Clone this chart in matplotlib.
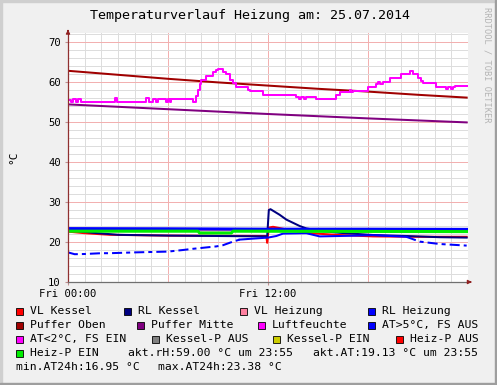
import matplotlib
matplotlib.use('Agg')
import matplotlib.pyplot as plt
from matplotlib.patches import Rectangle

# Zeitachse in Stunden ab Fri 00:00
vl_kessel_t = [0, 1, 2.5, 6, 11.9, 11.95, 12.05, 12.3, 13.3, 14.5, 16.3, 18.3, 21, 23.92]
vl_kessel = [22.6, 22.2, 21.8, 21.6, 21.5, 19.8, 23.6, 23.8, 23.0, 22.2, 21.75, 21.4, 21.3, 21.3]

rl_kessel_t = [0, 1.5, 3, 6, 9, 11.95, 12.05, 12.15, 12.7, 13.1, 13.5, 13.9, 14.3, 15.1,
               16.3, 18.3, 20.3, 22.3, 23.92]
rl_kessel = [23.0, 22.3, 21.8, 21.6, 21.5, 21.4, 28.0, 28.2, 26.8, 25.6, 24.8, 24.0, 23.4, 22.8,
             22.3, 21.75, 21.5, 21.2, 21.1]

vl_heizung_t = [0, 12, 23.92]
vl_heizung = [22.9, 22.9, 22.8]

rl_heizung_t = [0, 6, 12, 18, 23.92]
rl_heizung = [23.35, 23.3, 23.2, 23.2, 23.15]

puffer_oben_t = [0, 3, 6, 9, 12, 15, 18, 21, 23.92]
puffer_oben = [62.8, 61.8, 60.8, 59.9, 59.1, 58.3, 57.6, 56.8, 56.1]

puffer_mitte_t = [0, 6, 12, 18, 23.92]
puffer_mitte = [54.4, 53.2, 52.0, 50.9, 49.9]

luft_t = [0, 0.2, 0.3, 0.45, 0.6, 0.75, 2.8, 2.95, 4.7, 4.85, 5.1, 5.3, 5.4, 5.9, 6.0, 6.1,
          6.2, 7.5, 7.7, 7.8, 7.9, 8.0, 8.3, 8.7, 8.85, 9.0, 9.3, 9.5, 9.7, 9.9, 10.1, 10.8,
          10.9, 11.7, 13.7, 13.85, 14.0, 14.15, 14.3, 14.9, 16.1, 16.3, 16.9, 17.0, 17.1,
          18.0, 18.5, 18.6, 18.7, 18.9, 19.3, 20.0, 20.5, 20.7, 21.0, 21.2, 21.3, 22.1,
          22.7, 22.8, 23.0, 23.1, 23.2, 23.92]
luftfeuchte = [55.5, 55.0, 55.75, 55.0, 55.75, 55.0, 56.0, 55.0, 56.0, 55.0, 55.75, 55.0,
               55.75, 55.0, 55.75, 55.0, 55.75, 55.0, 56.5, 58.0, 59.5, 60.5, 61.5, 62.5,
               63.0, 63.2, 62.6, 62.0, 60.5, 59.8, 58.8, 58.0, 57.75, 56.75, 56.25, 55.75,
               56.25, 55.75, 56.25, 55.7, 56.8, 57.5, 58.0, 57.5, 57.75, 58.7, 59.4, 60.0,
               59.4, 60.1, 61.1, 61.9, 62.7, 62.0, 61.0, 60.3, 59.8, 58.8, 58.3, 58.8, 58.3,
               58.8, 59.0, 59.0]

at_t = [0, 0.4, 1.0, 2.0, 2.5, 4.0, 6.0, 6.9, 7.5, 8.9, 9.3, 9.9, 10.3, 11.3, 12.0, 12.5,
        12.9, 14.3, 15.1, 16.3, 18.3, 20.3, 21.1, 22.3, 23.92]
at_temp = [17.4, 16.95, 17.0, 17.2, 17.2, 17.4, 17.6, 18.0, 18.3, 18.9, 19.2, 20.1, 20.6,
           20.9, 21.1, 21.5, 22.1, 22.2, 21.4, 21.5, 21.7, 21.3, 20.1, 19.5, 19.1]

heiz_p_t = [0, 7.8, 7.9, 9.8, 9.9, 23.92]
heiz_p = [22.7, 22.7, 22.25, 22.25, 22.7, 22.6]

x_ticks = [0, 12]
x_labels = ['Fri 00:00', 'Fri 12:00']
y_ticks = [10, 20, 30, 40, 50, 60, 70]

legend_rows = [
    [('VL Kessel', '#FF0000'), ('RL Kessel', '#000080'), ('VL Heizung', '#FF80A0'), ('RL Heizung', '#0000FF')],
    [('Puffer Oben', '#A00000'), ('Puffer Mitte', '#800080'), ('Luftfeuchte', '#FF00FF'), ('AT>5°C, FS AUS', '#0000FF')],
    [('AT<2°C, FS EIN', '#FF00FF'), ('Kessel-P AUS', '#808080'), ('Kessel-P EIN', '#CCCC00'), ('Heiz-P AUS', '#FF0000')],
    [('Heiz-P EIN', '#00EE00')],
]
legend_x = [[16, 124, 240, 368], [16, 137, 258, 368], [16, 152, 273, 396], [16]]
legend_y = [311, 325, 339, 353]

W, H = 497, 385
mono = 'DejaVu Sans Mono'


def fx(px):
    return px / W


def fy(py):
    return 1 - py / H


fig = plt.figure(figsize=(W / 100, H / 100), dpi=100, facecolor='#F0F0F0')

# Rahmen (3D-Effekt)
fig.patches.append(Rectangle((0, fy(2)), 1, 2 / H, transform=fig.transFigure, color='#CFCFCF', zorder=0))
fig.patches.append(Rectangle((0, 0), 2 / W, 1, transform=fig.transFigure, color='#CFCFCF', zorder=0))
fig.patches.append(Rectangle((0, 0), 1, 2 / H, transform=fig.transFigure, color='#9E9E9E', zorder=0))
fig.patches.append(Rectangle((fx(495), 0), 2 / W, 1, transform=fig.transFigure, color='#9E9E9E', zorder=0))

ax = fig.add_axes([fx(68), fy(282), 400 / W, 249 / H])
ax.set_facecolor('white')
ax.set_xlim(0, 24)
ax.set_ylim(10, 72.25)

# Gitter
for h in range(25):
    ax.axvline(h, color='#F2B0B0' if h % 6 == 0 else '#DDDDDD', lw=0.72, zorder=0)
for v in range(10, 73, 2):
    ax.axhline(v, color='#F2B0B0' if v % 10 == 0 else '#DDDDDD', lw=0.72, zorder=0)

lw2 = 1.45
ax.plot(vl_kessel_t, vl_kessel, color='#FF0000', lw=lw2)
ax.plot(rl_kessel_t, rl_kessel, color='#000080', lw=lw2)
ax.plot(vl_heizung_t, vl_heizung, color='#FF80A0', lw=lw2)
ax.plot(rl_heizung_t, rl_heizung, color='#0000FF', lw=2.2)
ax.plot(puffer_oben_t, puffer_oben, color='#A00000', lw=lw2)
ax.plot(puffer_mitte_t, puffer_mitte, color='#800080', lw=lw2)
ax.plot(luft_t, luftfeuchte, color='#FF00FF', lw=lw2, drawstyle='steps-post')
ax.plot(at_t[:13], at_temp[:13], color='#0000FF', lw=lw2, linestyle=(0, (5, 2, 2, 2)))
ax.plot(at_t[12:22], at_temp[12:22], color='#0000FF', lw=lw2)
ax.plot(at_t[21:], at_temp[21:], color='#0000FF', lw=lw2, linestyle=(0, (5, 2, 2, 2)))
ax.plot(heiz_p_t, heiz_p, color='#00EE00', lw=2.2)

# Achsen
for s in ['top', 'right']:
    ax.spines[s].set_visible(False)
ax.spines['left'].set_color('#903030')
ax.spines['bottom'].set_color('#707070')
ax.spines['left'].set_linewidth(0.9)
ax.spines['bottom'].set_linewidth(0.9)
ax.annotate('', xy=(0, 73.8), xytext=(0, 72.0), annotation_clip=False,
            arrowprops=dict(arrowstyle='-|>', color='#902020', lw=0.8, mutation_scale=6))
ax.annotate('', xy=(24.4, 10), xytext=(23.95, 10), annotation_clip=False,
            arrowprops=dict(arrowstyle='-|>', color='#902020', lw=0.8, mutation_scale=6))

ax.set_xticks(x_ticks, x_labels)
ax.set_yticks(y_ticks)
ax.tick_params(axis='both', length=2.2, color='#C09090', labelsize=7.6, pad=3)
for lab in ax.get_xticklabels() + ax.get_yticklabels():
    lab.set_family(mono)

fig.text(fx(250), fy(16), 'Temperaturverlauf Heizung am: 25.07.2014', family=mono,
         fontsize=9.6, ha='center', va='center')
fig.text(fx(13), fy(157), '°C', family=mono, fontsize=8, rotation=90, ha='center', va='center')
fig.text(fx(487), fy(7), 'RRDTOOL / TOBI OETIKER', family=mono, fontsize=6.2, rotation=270,
         ha='center', va='top', color='#B4B4B4')

# Legende
for row, xs, y in zip(legend_rows, legend_x, legend_y):
    for (name, col), x in zip(row, xs):
        fig.patches.append(Rectangle((fx(x), fy(y + 4)), 7 / W, 7 / H, transform=fig.transFigure,
                                     facecolor=col, edgecolor='black', lw=0.6))
        fig.text(fx(x + 14), fy(y), name, family=mono, fontsize=8.2, ha='left', va='center')

fig.text(fx(128), fy(353), 'akt.rH:59.00 °C um 23:55', family=mono, fontsize=8.2, ha='left', va='center')
fig.text(fx(313), fy(353), 'akt.AT:19.13 °C um 23:55', family=mono, fontsize=8.2, ha='left', va='center')
fig.text(fx(16), fy(367), 'min.AT24h:16.95 °C', family=mono, fontsize=8.2, ha='left', va='center')
fig.text(fx(158), fy(367), 'max.AT24h:23.38 °C', family=mono, fontsize=8.2, ha='left', va='center')

fig.savefig('out.png', dpi=100, facecolor=fig.get_facecolor())
